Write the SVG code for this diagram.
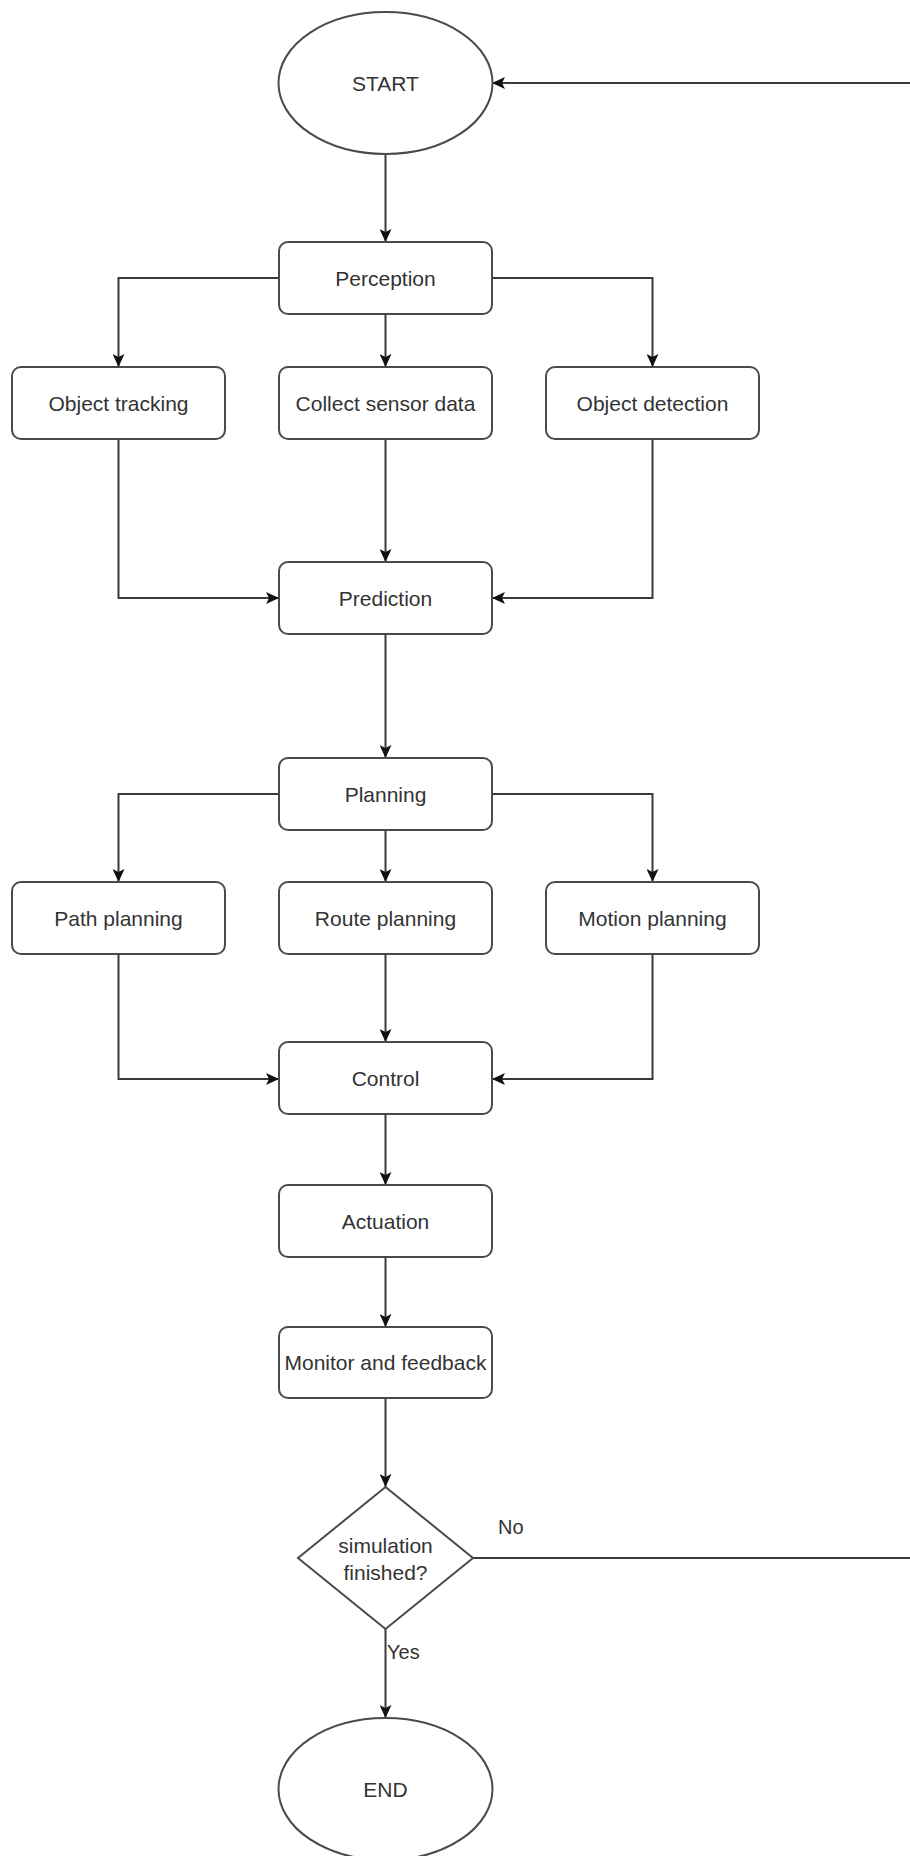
<svg xmlns="http://www.w3.org/2000/svg" width="910" height="1856" viewBox="0 0 910 1856">
<style>
.n{fill:#fff;stroke:#4a4a4a;stroke-width:2}
.t{font-family:"Liberation Sans",Arial,sans-serif;font-size:21px;fill:#333;text-anchor:middle;dominant-baseline:central}
.l{font-family:"Liberation Sans",Arial,sans-serif;font-size:20px;fill:#333;dominant-baseline:central}
.c{fill:none;stroke:#3a3a3a;stroke-width:2;marker-end:url(#ah)}
</style>
<defs>
<marker id="ah" markerUnits="userSpaceOnUse" markerWidth="14" markerHeight="12" refX="13" refY="6" orient="auto">
<path d="M0,0 L13,6 L0,12 L3,6 Z" fill="#111"/>
</marker>
</defs>
<rect width="910" height="1856" fill="#fff"/>
<g id="connectors">
<path class="c" d="M385.5,154 V242"/>
<path class="c" d="M279,278 H118.5 V367"/>
<path class="c" d="M385.5,314 V367"/>
<path class="c" d="M492,278 H652.5 V367"/>
<path class="c" d="M118.5,439 V598 H279"/>
<path class="c" d="M385.5,439 V562"/>
<path class="c" d="M652.5,439 V598 H492"/>
<path class="c" d="M385.5,634 V758"/>
<path class="c" d="M279,794 H118.5 V882"/>
<path class="c" d="M385.5,830 V882"/>
<path class="c" d="M492,794 H652.5 V882"/>
<path class="c" d="M118.5,954 V1079 H279"/>
<path class="c" d="M385.5,954 V1042"/>
<path class="c" d="M652.5,954 V1079 H492"/>
<path class="c" d="M385.5,1114 V1185"/>
<path class="c" d="M385.5,1257 V1327"/>
<path class="c" d="M385.5,1398 V1487"/>
<path class="c" d="M385.5,1629 V1718"/>
<path class="c" d="M473,1558 H920 V83 H492"/>
<text class="l" x="498" y="1527">No</text>
<text class="l" x="387" y="1652">Yes</text>
</g>
<g id="start"><ellipse class="n" cx="385.5" cy="83" rx="107" ry="71"/><text class="t" x="385.5" y="83">START</text></g>
<g id="perception"><rect class="n" x="279" y="242" width="213" height="72" rx="9"/><text class="t" x="385.5" y="278">Perception</text></g>
<g id="object-tracking"><rect class="n" x="12" y="367" width="213" height="72" rx="9"/><text class="t" x="118.5" y="403">Object tracking</text></g>
<g id="collect-sensor-data"><rect class="n" x="279" y="367" width="213" height="72" rx="9"/><text class="t" x="385.5" y="403">Collect sensor data</text></g>
<g id="object-detection"><rect class="n" x="546" y="367" width="213" height="72" rx="9"/><text class="t" x="652.5" y="403">Object detection</text></g>
<g id="prediction"><rect class="n" x="279" y="562" width="213" height="72" rx="9"/><text class="t" x="385.5" y="598">Prediction</text></g>
<g id="planning"><rect class="n" x="279" y="758" width="213" height="72" rx="9"/><text class="t" x="385.5" y="794">Planning</text></g>
<g id="path-planning"><rect class="n" x="12" y="882" width="213" height="72" rx="9"/><text class="t" x="118.5" y="918">Path planning</text></g>
<g id="route-planning"><rect class="n" x="279" y="882" width="213" height="72" rx="9"/><text class="t" x="385.5" y="918">Route planning</text></g>
<g id="motion-planning"><rect class="n" x="546" y="882" width="213" height="72" rx="9"/><text class="t" x="652.5" y="918">Motion planning</text></g>
<g id="control"><rect class="n" x="279" y="1042" width="213" height="72" rx="9"/><text class="t" x="385.5" y="1078">Control</text></g>
<g id="actuation"><rect class="n" x="279" y="1185" width="213" height="72" rx="9"/><text class="t" x="385.5" y="1221">Actuation</text></g>
<g id="monitor-feedback"><rect class="n" x="279" y="1327" width="213" height="71" rx="9"/><text class="t" x="385.5" y="1362.5">Monitor and feedback</text></g>
<g id="decision"><polygon class="n" points="385.5,1487 473,1558 385.5,1629 298,1558"/><text class="t" x="385.5" y="1545">simulation</text><text class="t" x="385.5" y="1572">finished?</text></g>
<g id="end"><ellipse class="n" cx="385.5" cy="1789" rx="107" ry="71"/><text class="t" x="385.5" y="1789">END</text></g>
</svg>
